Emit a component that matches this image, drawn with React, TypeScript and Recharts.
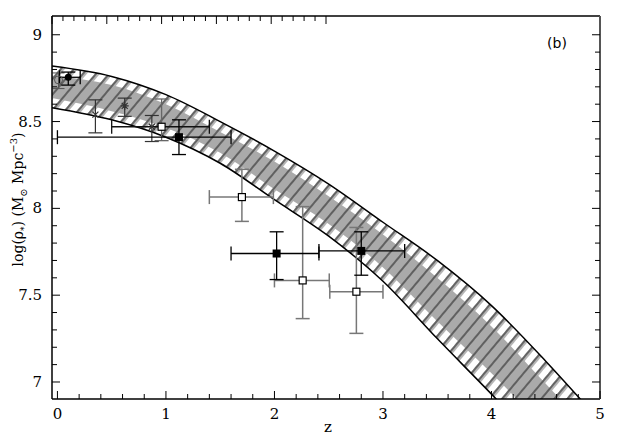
import React from 'react';
import { ComposedChart, Area, Scatter, ErrorBar, XAxis, YAxis } from 'recharts';

// model band (outer hatched region and inner grey core)
const bandZ = [-0.05, 0.5, 1, 1.5, 2, 2.5, 3, 3.5, 4, 4.5, 4.85];
const bandUpper = [8.82, 8.76, 8.655, 8.5, 8.33, 8.14, 7.92, 7.7, 7.44, 7.12, 6.88];
const bandLower = [8.58, 8.51, 8.41, 8.26, 8.05, 7.84, 7.58, 7.25, 6.93, 6.6, 6.38];
const coreUpper = [8.765, 8.71, 8.6, 8.44, 8.27, 8.07, 7.85, 7.6, 7.32, 6.99, 6.76];
const coreLower = [8.635, 8.56, 8.465, 8.32, 8.11, 7.91, 7.66, 7.35, 7.05, 6.73, 6.5];

const xTicks = [0, 0.2, 0.4, 0.6, 0.8, 1, 1.2, 1.4, 1.6, 1.8, 2, 2.2, 2.4, 2.6, 2.8, 3, 3.2, 3.4, 3.6, 3.8, 4, 4.2, 4.4, 4.6, 4.8, 5];
const yTicks = [7, 7.1, 7.2, 7.3, 7.4, 7.5, 7.6, 7.7, 7.8, 7.9, 8, 8.1, 8.2, 8.3, 8.4, 8.5, 8.6, 8.7, 8.8, 8.9, 9];

// measurements: z, log(rho), errors as [minus, plus]
const filledSquares = [
    { z: 1.12, v: 8.41, ex: [1.12, 0.48], ey: [0.1, 0.1] },
    { z: 2.02, v: 7.74, ex: [0.42, 0.39], ey: [0.15, 0.125] },
    { z: 2.8, v: 7.755, ex: [0.39, 0.4], ey: [0.14, 0.11] },
];
const openSquareDark = [{ z: 0.96, v: 8.47, ex: [0.46, 0.44], ey: [0.08, 0.16] }];
const openSquares = [
    { z: 1.7, v: 8.065, ex: [0.3, 0.29], ey: [0.14, 0.16] },
    { z: 2.26, v: 7.585, ex: [0.26, 0.245], ey: [0.22, 0.425] },
    { z: 2.755, v: 7.52, ex: [0.245, 0.245], ey: [0.24, 0.37] },
];
const localPoint = [{ z: 0.1, v: 8.755, ex: [0.08, 0.11], ey: [0.045, 0.03] }];
const openCircle = [{ z: 0.01, v: 8.74, ey: [0.05, 0.04] }];
const crosses = [
    { z: 0.35, v: 8.54, ey: [0.105, 0.085] },
    { z: 0.87, v: 8.47, ey: [0.085, 0.065] },
];
const stars = [{ z: 0.62, v: 8.59, ey: [0.06, 0.045] }];

const bandData = bandZ.map((z, i) => ({
    z,
    band: [bandLower[i], bandUpper[i]],
    core: [coreLower[i], coreUpper[i]],
}));

const FONT = '"DejaVu Serif", serif';

const isMajorX = (v: number) => Math.abs(v - Math.round(v)) < 1e-6;
const isMajorY = (v: number) => Math.abs(v * 2 - Math.round(v * 2)) < 1e-6;

const BottomTick = ({ x, y, payload }: any) => {
    const major = isMajorX(payload.value);
    return (
        <g>
            <line x1={x} x2={x} y1={y} y2={y - (major ? 8 : 5)} stroke="#000" strokeWidth={1} />
            {major && (
                <text x={x} y={y + 20} textAnchor="middle" fontFamily={FONT} fontSize={15} fill="#000">
                    {payload.value}
                </text>
            )}
        </g>
    );
};

const TopTick = ({ x, y, payload }: any) => {
    const major = isMajorX(payload.value);
    return <line x1={x} x2={x} y1={y} y2={y + (major ? 8 : 5)} stroke="#000" strokeWidth={1} />;
};

const LeftTick = ({ x, y, payload }: any) => {
    const major = isMajorY(payload.value);
    return (
        <g>
            <line x1={x} x2={x + (major ? 8 : 5)} y1={y} y2={y} stroke="#000" strokeWidth={1} />
            {major && (
                <text x={x - 10} y={y + 5} textAnchor="end" fontFamily={FONT} fontSize={15} fill="#000">
                    {payload.value}
                </text>
            )}
        </g>
    );
};

const RightTick = ({ x, y, payload }: any) => {
    const major = isMajorY(payload.value);
    return <line x1={x} x2={x - (major ? 8 : 5)} y1={y} y2={y} stroke="#000" strokeWidth={1} />;
};

const FilledSquare = (p: any) => <rect x={p.cx - 4} y={p.cy - 4} width={8} height={8} fill="#000" />;
const OpenSquare = (p: any) => (
    <rect x={p.cx - 3.5} y={p.cy - 3.5} width={7} height={7} fill="#fff" stroke="#000" strokeWidth={1.2} />
);
const FilledDot = (p: any) => <circle cx={p.cx} cy={p.cy} r={3.5} fill="#000" />;
const OpenDot = (p: any) => <circle cx={p.cx} cy={p.cy} r={4} fill="none" stroke="#555" strokeWidth={1} />;
const Cross = (p: any) => (
    <path d={`M${p.cx - 3},${p.cy - 3}L${p.cx + 3},${p.cy + 3}M${p.cx - 3},${p.cy + 3}L${p.cx + 3},${p.cy - 3}`} stroke="#333" strokeWidth={1.2} />
);
const Star = (p: any) => (
    <path
        d={`M${p.cx - 4},${p.cy}L${p.cx + 4},${p.cy}M${p.cx},${p.cy - 4}L${p.cx},${p.cy + 4}M${p.cx - 3},${p.cy - 3}L${p.cx + 3},${p.cy + 3}M${p.cx - 3},${p.cy + 3}L${p.cx + 3},${p.cy - 3}`}
        stroke="#333"
        strokeWidth={1.2}
    />
);

const YLabel = ({ viewBox }: any) => {
    const cx = viewBox.x + viewBox.width - 29;
    const cy = viewBox.y + viewBox.height / 2 - 8;
    return (
        <text transform={`translate(${cx},${cy}) rotate(-90)`} textAnchor="middle" fontFamily={FONT} fontSize={14} fill="#000">
            log(ρ
            <tspan dy={4} fontSize={9}>*</tspan>
            <tspan dy={-4}>)  (M</tspan>
            <tspan dy={4} fontSize={10}>⊙</tspan>
            <tspan dy={-4}> Mpc</tspan>
            <tspan dy={-6} fontSize={10}>−3</tspan>
            <tspan dy={6}>)</tspan>
        </text>
    );
};

const XLabel = ({ viewBox }: any) => (
    <text x={viewBox.x + viewBox.width / 2 + 2} y={viewBox.y + 33} textAnchor="middle" fontFamily={FONT} fontSize={15} fill="#000">
        z
    </text>
);

const PanelLabel = ({ viewBox }: any) => (
    <text x={viewBox.x + viewBox.width - 43} y={viewBox.y + 33} textAnchor="middle" fontFamily='"DejaVu Sans", sans-serif' fontSize={14} fill="#000">
        (b)
    </text>
);

export default function App() {
    return (
        <div style={{ width: 640, height: 436, background: '#fff' }}>
            <style>{'body{margin:0}'}</style>
            <ComposedChart width={640} height={436} data={bandData} margin={{ top: 15, right: 39, bottom: 36, left: 51 }}>
                <defs>
                    <pattern id="edgeFill" width="10" height="10" patternUnits="userSpaceOnUse" patternTransform="rotate(40)">
                        <rect x="0" y="0" width="4" height="10" fill="#b4b4b4" />
                    </pattern>
                    <pattern id="hatch" width="10" height="10" patternUnits="userSpaceOnUse" patternTransform="rotate(40)">
                        <line x1="1" y1="0" x2="1" y2="10" stroke="#222" strokeWidth={1.1} />
                    </pattern>
                </defs>
                <XAxis
                    dataKey="z"
                    type="number"
                    domain={[-0.05, 5]}
                    allowDataOverflow
                    ticks={xTicks}
                    interval={0}
                    tickSize={0}
                    tickMargin={0}
                    tickLine={false}
                    tick={(p: any) => <BottomTick {...p} />}
                    height={1}
                    axisLine={{ stroke: '#000', strokeWidth: 1.5 }}
                    label={{ content: XLabel }}
                />
                <XAxis
                    xAxisId="top"
                    orientation="top"
                    type="number"
                    domain={[-0.05, 5]}
                    allowDataOverflow
                    ticks={xTicks}
                    interval={0}
                    tickSize={0}
                    tickMargin={0}
                    tickLine={false}
                    tick={(p: any) => <TopTick {...p} />}
                    height={1}
                    axisLine={{ stroke: '#000', strokeWidth: 1.5 }}
                    label={{ content: PanelLabel }}
                />
                <YAxis
                    type="number"
                    domain={[6.902, 9.108]}
                    allowDataOverflow
                    ticks={yTicks}
                    interval={0}
                    tickSize={0}
                    tickMargin={0}
                    tickLine={false}
                    tick={(p: any) => <LeftTick {...p} />}
                    width={1}
                    axisLine={{ stroke: '#000', strokeWidth: 1.5 }}
                    label={{ content: YLabel }}
                />
                <YAxis
                    yAxisId="right"
                    orientation="right"
                    type="number"
                    domain={[6.902, 9.108]}
                    allowDataOverflow
                    ticks={yTicks}
                    interval={0}
                    tickSize={0}
                    tickMargin={0}
                    tickLine={false}
                    tick={(p: any) => <RightTick {...p} />}
                    width={1}
                    axisLine={{ stroke: '#555', strokeWidth: 2 }}
                />
                <Area type="monotone" dataKey="band" stroke="none" fill="url(#edgeFill)" fillOpacity={1} isAnimationActive={false} />
                <Area type="monotone" dataKey="core" stroke="none" fill="#aaaaaa" fillOpacity={1} isAnimationActive={false} />
                <Area type="monotone" dataKey="band" stroke="#000" strokeWidth={1.5} fill="url(#hatch)" fillOpacity={1} isAnimationActive={false} />

                <Scatter data={openCircle} dataKey="v" shape={OpenDot} isAnimationActive={false}>
                    <ErrorBar dataKey="ey" direction="y" width={6} stroke="#555" strokeWidth={1} isAnimationActive={false} />
                </Scatter>
                <Scatter data={localPoint} dataKey="v" shape={FilledDot} isAnimationActive={false}>
                    <ErrorBar dataKey="ex" direction="x" width={7} stroke="#000" strokeWidth={1.3} isAnimationActive={false} />
                    <ErrorBar dataKey="ey" direction="y" width={7} stroke="#000" strokeWidth={1.3} isAnimationActive={false} />
                </Scatter>
                <Scatter data={crosses} dataKey="v" shape={Cross} isAnimationActive={false}>
                    <ErrorBar dataKey="ey" direction="y" width={7} stroke="#333" strokeWidth={1.2} isAnimationActive={false} />
                </Scatter>
                <Scatter data={stars} dataKey="v" shape={Star} isAnimationActive={false}>
                    <ErrorBar dataKey="ey" direction="y" width={7} stroke="#333" strokeWidth={1.2} isAnimationActive={false} />
                </Scatter>
                <Scatter data={openSquares} dataKey="v" shape={OpenSquare} isAnimationActive={false}>
                    <ErrorBar dataKey="ex" direction="x" width={7} stroke="#777" strokeWidth={1.5} isAnimationActive={false} />
                    <ErrorBar dataKey="ey" direction="y" width={7} stroke="#777" strokeWidth={1.5} isAnimationActive={false} />
                </Scatter>
                <Scatter data={openSquareDark} dataKey="v" shape={OpenSquare} isAnimationActive={false}>
                    <ErrorBar dataKey="ex" direction="x" width={7} stroke="#111" strokeWidth={1.3} isAnimationActive={false} />
                    <ErrorBar dataKey="ey" direction="y" width={7} stroke="#666" strokeWidth={1.3} isAnimationActive={false} />
                </Scatter>
                <Scatter data={filledSquares} dataKey="v" shape={FilledSquare} isAnimationActive={false}>
                    <ErrorBar dataKey="ex" direction="x" width={7} stroke="#000" strokeWidth={1.3} isAnimationActive={false} />
                    <ErrorBar dataKey="ey" direction="y" width={7} stroke="#000" strokeWidth={1.3} isAnimationActive={false} />
                </Scatter>
            </ComposedChart>
        </div>
    );
}
